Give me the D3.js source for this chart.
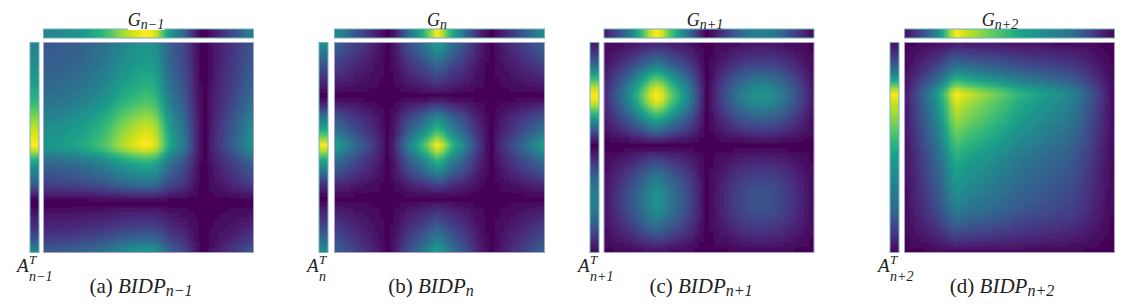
<!DOCTYPE html>
<html>
<head>
<meta charset="utf-8">
<style>
  html, body { margin: 0; padding: 0; background: #fff; }
  text { font-family: "Liberation Serif", serif; fill: #222; }
</style>
<script src="https://cdn.jsdelivr.net/npm/d3@7"></script>
</head>
<body>
<div id="chart"></div>
<script>
// strip values, 0 = dark purple, 1 = yellow
var gA = [.45,.45,.46,.47,.48,.50,.51,.53,.55,.58,.61,.64,.68,.73,.79,.84,.88,.92,.95,.98,1.0,.98,.92,.78,.62,.50,.42,.36,.28,.16,.07,.01,.00,.04,.08,.12,.16,.20,.25,.30,.36,.42];
var aA = [.44,.45,.46,.47,.48,.50,.52,.54,.56,.59,.62,.65,.69,.74,.79,.84,.88,.92,.95,.98,1.0,.92,.75,.62,.52,.46,.40,.34,.27,.17,.08,.01,.00,.03,.06,.09,.12,.16,.21,.27,.35,.44];
var gB = [.47,.42,.36,.30,.25,.20,.16,.12,.08,.04,.00,.03,.10,.20,.32,.42,.50,.60,.72,.86,1.0,.90,.74,.60,.50,.42,.32,.22,.13,.07,.02,.00,.04,.08,.12,.16,.20,.25,.30,.35,.41,.47];
var aB = [.47,.42,.36,.30,.25,.20,.16,.12,.08,.04,.00,.03,.11,.21,.33,.43,.51,.60,.72,.86,1.0,.90,.74,.60,.50,.42,.32,.22,.13,.07,.02,.00,.04,.08,.12,.16,.20,.25,.30,.35,.41,.47];
var gC = [.08,.14,.20,.27,.35,.44,.55,.67,.80,.93,1.0,.95,.82,.70,.60,.50,.40,.30,.18,.07,.00,.03,.08,.13,.18,.24,.29,.33,.37,.40,.42,.43,.42,.40,.37,.33,.28,.23,.18,.13,.08,.04];
var aC = [.07,.12,.18,.25,.33,.45,.58,.70,.83,.94,1.0,.97,.88,.75,.62,.50,.38,.28,.16,.06,.00,.02,.08,.13,.18,.24,.29,.33,.37,.40,.42,.43,.42,.40,.37,.33,.28,.23,.18,.12,.07,.03];
var gD = [.05,.10,.16,.22,.29,.37,.46,.57,.72,.90,1.0,.95,.91,.88,.85,.82,.79,.76,.73,.70,.67,.63,.60,.57,.55,.53,.51,.49,.47,.45,.43,.41,.39,.36,.32,.28,.23,.18,.13,.09,.05,.02];
var aD = [.05,.10,.15,.21,.28,.36,.46,.58,.72,.90,1.0,.95,.91,.88,.85,.82,.78,.74,.71,.67,.64,.60,.57,.54,.52,.50,.48,.46,.44,.42,.40,.38,.36,.33,.30,.26,.22,.18,.14,.10,.06,.02];

var letters = ["a", "b", "c", "d"];
var subscripts = ["n\u22121", "n", "n+1", "n+2"];
var gStrips = [gA, gB, gC, gD];
var aStrips = [aA, aB, aC, aD];

// layout of each panel, in px
var heatLeft = [43.5, 334.5, 604, 904.5];
var aLeft = [30, 319, 590, 890];
var gLabelX = [146, 437, 705, 1000];
var aLabelX = [17, 307, 578, 878];
var captionX = [141, 431, 701, 1002];
var heatTop = 42.5, heatSize = 210, stripTop = 29, stripSize = 9;
var over = 8; // edge cells run past the clip so the blur does not fade to white
var heatGamma = 0.8; // the heatmaps read a bit brighter than the plain product

var color = d3.scaleSequential(d3.interpolateViridis).domain([0, 1]);

var svg = d3.select("#chart")
    .append("svg")
    .attr("width", 1131)
    .attr("height", 307)
    .style("display", "block");

var defs = svg.append("defs");
defs.append("filter")
    .attr("id", "soft")
    .attr("filterUnits", "userSpaceOnUse")
    .attr("x", 0).attr("y", 0)
    .attr("width", 1131).attr("height", 307)
    .append("feGaussianBlur")
    .attr("stdDeviation", 1.6);

// draw a block of colored cells, clipped and softened
function drawCells(id, x0, y0, w, h, cols, rows, value) {
    var x = d3.scaleBand().domain(d3.range(cols)).range([x0, x0 + w]);
    var y = d3.scaleBand().domain(d3.range(rows)).range([y0, y0 + h]);

    defs.append("clipPath").attr("id", id)
        .append("rect")
        .attr("x", x0).attr("y", y0).attr("width", w).attr("height", h);

    var cells = [];
    d3.range(rows).forEach(function (r) {
        d3.range(cols).forEach(function (c) {
            cells.push({ r: r, c: c, v: value(r, c) });
        });
    });

    svg.append("g")
        .attr("clip-path", "url(#" + id + ")")
        .append("g")
        .attr("filter", "url(#soft)")
        .selectAll("rect")
        .data(cells)
        .enter()
        .append("rect")
        .attr("x", function (d) { return x(d.c) - (d.c === 0 ? over : 0); })
        .attr("y", function (d) { return y(d.r) - (d.r === 0 ? over : 0); })
        .attr("width", function (d) {
            return x.bandwidth() + 0.5 + (d.c === 0 ? over : 0) + (d.c === cols - 1 ? over : 0);
        })
        .attr("height", function (d) {
            return y.bandwidth() + 0.5 + (d.r === 0 ? over : 0) + (d.r === rows - 1 ? over : 0);
        })
        .attr("fill", function (d) { return color(d.v); });
}

function outline(x, y, w, h, stroke) {
    svg.append("rect")
        .attr("x", x).attr("y", y).attr("width", w).attr("height", h)
        .attr("fill", "none")
        .attr("stroke", stroke)
        .attr("stroke-width", 1);
}

letters.forEach(function (letter, i) {
    var g = gStrips[i], a = aStrips[i], n = g.length;

    // top strip, left strip, then BIDP = A^T G from the two strips
    drawCells("g" + i, heatLeft[i], stripTop, heatSize, stripSize, n, 1, function (r, c) { return g[c]; });
    drawCells("a" + i, aLeft[i], heatTop, stripSize, heatSize, 1, n, function (r) { return a[r]; });
    drawCells("h" + i, heatLeft[i], heatTop, heatSize, heatSize, n, n, function (r, c) {
        return Math.pow(a[r] * g[c], heatGamma);
    });

    outline(heatLeft[i], stripTop, heatSize, stripSize, "#6fb4bd");
    outline(aLeft[i], heatTop, stripSize, heatSize, "#6fb4bd");
    outline(heatLeft[i], heatTop, heatSize, heatSize, "#a99cc8");

    // G label sits on a white patch that bites into the strip
    var gLabel = svg.append("text")
        .attr("x", gLabelX[i])
        .attr("y", 26)
        .attr("text-anchor", "middle")
        .attr("font-size", 18)
        .attr("font-style", "italic");
    gLabel.append("tspan").text("G");
    gLabel.append("tspan").attr("dy", 3).attr("font-size", 14).text(subscripts[i]);
    var box = gLabel.node().getBBox();
    svg.insert("rect", "text")
        .attr("x", box.x).attr("y", 12)
        .attr("width", box.width).attr("height", 18)
        .attr("fill", "#fff");

    // A^T label, script letters stacked
    svg.append("text")
        .attr("x", aLabelX[i]).attr("y", 272)
        .attr("font-size", 19).attr("font-style", "italic")
        .text("A");
    svg.append("text")
        .attr("x", aLabelX[i] + 12).attr("y", 264)
        .attr("font-size", 13).attr("font-style", "italic")
        .text("T");
    svg.append("text")
        .attr("x", aLabelX[i] + 12).attr("y", 281)
        .attr("font-size", 14).attr("font-style", "italic")
        .text(subscripts[i]);

    // caption
    var cap = svg.append("text")
        .attr("x", captionX[i])
        .attr("y", 293)
        .attr("text-anchor", "middle")
        .attr("font-size", 21);
    cap.append("tspan").text("(" + letter + ") ");
    cap.append("tspan").attr("font-style", "italic").text("BIDP");
    cap.append("tspan").attr("font-style", "italic").attr("font-size", 16).attr("dy", 3).text(subscripts[i]);
});
</script>
</body>
</html>
